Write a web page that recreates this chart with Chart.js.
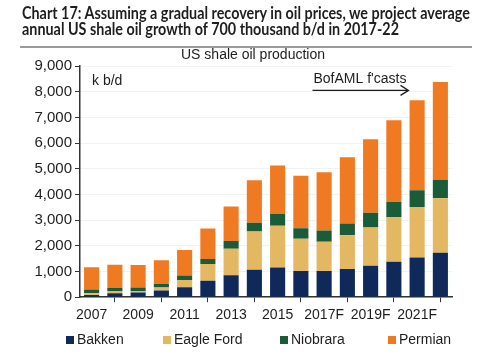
<!DOCTYPE html>
<html>
<head>
<meta charset="utf-8">
<script src="https://cdn.jsdelivr.net/npm/chart.js@4/dist/chart.umd.min.js"></script>
<style>
  html, body { margin: 0; padding: 0; background: #fff; }
  #wrap { position: relative; width: 480px; height: 355px; overflow: hidden; }
  #heading { position: absolute; left: 22px; top: 5px; font-family: Lato, "Open Sans", sans-serif; font-weight: 700; font-size: 16.5px; line-height: 16px; color: #1e1e1e; white-space: nowrap; transform-origin: 0 0; }
  #rule { position: absolute; left: 20px; top: 46px; width: 452px; height: 2px; background: #9a9a9a; }
  canvas { position: absolute; left: 0; top: 0; }
</style>
</head>
<body>
<div id="wrap">
  <canvas id="c" width="480" height="355"></canvas>
  <div id="heading"><div id="h1">Chart 17: Assuming a gradual recovery in oil prices, we project average</div><div id="h2">annual US shale oil growth of 700 thousand b/d in 2017-22</div></div>
  <div id="rule"></div>
</div>
<script>
// ---- data (k b/d) ----
const years = ['2007','2008','2009','2010','2011','2012','2013','2014','2015','2016','2017F','2018F','2019F','2020F','2021F','2022F'];
const bakken    = [ 90, 150, 180, 260, 390, 640, 850, 1070, 1160, 1020, 1020, 1100, 1220, 1380, 1550, 1730];
const eagleFord = [ 60,  95,  65, 115, 280, 650, 1040, 1490, 1620, 1260, 1140, 1310, 1490, 1740, 1960, 2120];
const niobrara  = [150, 115, 130, 140, 170, 200, 300, 340, 470, 400, 440, 460, 580, 600, 650, 720];
const permian   = [870, 900, 875, 925, 1000, 1180, 1340, 1650, 1880, 2050, 2260, 2580, 2860, 3170, 3510, 3810];
const yTicks = [0,1000,2000,3000,4000,5000,6000,7000,8000,9000];
const seriesNames = ['Bakken','Eagle Ford','Niobrara','Permian'];
const chartTitle = 'US shale oil production';
const unitLabel = 'k b/d';
const forecastLabel = "BofAML f'casts";

// fit heading width
(function(){
  const h = document.getElementById('heading');
  const w = document.getElementById('h1').getBoundingClientRect().width;
  h.style.transform = 'scaleX(' + (448 / w) + ')';
})();

const colors = ['#0f2a5a', '#e4b862', '#1b5c38', '#f07a22'];
const FONT = '"Liberation Sans", Arial, sans-serif';
const legendX = [66, 163, 280, 388];

const annot = {
  id: 'annot',
  afterDraw(chart) {
    const ctx = chart.ctx, ca = chart.chartArea, xs = chart.scales.x, ys = chart.scales.y;
    ctx.save();
    ctx.fillStyle = '#1e1e1e';
    ctx.textBaseline = 'middle';
    // chart title
    ctx.font = '14px ' + FONT;
    ctx.textAlign = 'center';
    ctx.fillText(chartTitle, 253, 55);
    ctx.textAlign = 'left';
    ctx.fillText(unitLabel, ca.left + 12, ys.getPixelForValue(8400));
    const half = (xs.getPixelForValue(1) - xs.getPixelForValue(0)) / 2;
    const x0 = xs.getPixelForValue(10) - half;
    const x1 = xs.getPixelForValue(14) - half;
    ctx.fillText(forecastLabel, x0 + 1, ys.getPixelForValue(8500));
    const ya = ys.getPixelForValue(8050);
    ctx.strokeStyle = '#1e1e1e';
    ctx.lineWidth = 1.3;
    ctx.beginPath();
    ctx.moveTo(x0, ya); ctx.lineTo(x1 + 3, ya);
    ctx.moveTo(x1 - 5, ya - 5); ctx.lineTo(x1 + 3, ya); ctx.lineTo(x1 - 5, ya + 5);
    ctx.stroke();
    // legend
    const ly = 340;
    chart.data.datasets.forEach((ds, i) => {
      ctx.fillStyle = ds.backgroundColor;
      ctx.fillRect(legendX[i], ly - 4, 8, 8);
      ctx.fillStyle = '#1e1e1e';
      ctx.fillText(ds.label, legendX[i] + 11, ly);
    });
    ctx.restore();
  }
};

new Chart(document.getElementById('c'), {
  type: 'bar',
  data: {
    labels: years,
    datasets: [
      { label: seriesNames[0], data: bakken,    backgroundColor: colors[0] },
      { label: seriesNames[1], data: eagleFord, backgroundColor: colors[1] },
      { label: seriesNames[2], data: niobrara,  backgroundColor: colors[2] },
      { label: seriesNames[3], data: permian,   backgroundColor: colors[3] }
    ]
  },
  options: {
    responsive: false,
    animation: false,
    devicePixelRatio: 1,
    datasets: { bar: { categoryPercentage: 1, barPercentage: 0.65 } },
    layout: { padding: { top: 66, right: 28, left: 0, bottom: 26 } },
    plugins: {
      tooltip: { enabled: false },
      title: { display: false },
      legend: { display: false }
    },
    scales: {
      x: {
        stacked: true,
        offset: true,
        grid: { offset: true, drawOnChartArea: false, drawTicks: true, tickLength: 5, tickColor: '#333' },
        border: { color: '#333', width: 1.5 },
        ticks: {
          autoSkip: false, maxRotation: 0, color: '#1e1e1e', padding: 5,
          font: { family: FONT, size: 14 },
          callback: (v, i) => (i % 2 === 0 ? years[i] : null)
        }
      },
      y: {
        stacked: true,
        min: yTicks[0], max: yTicks[yTicks.length - 1],
        afterBuildTicks: (s) => { s.ticks = yTicks.map(v => ({ value: v })); },
        afterFit: (s) => { s.width = 80; },
        grid: { color: 'rgba(0,0,0,0.05)', tickColor: '#333', tickLength: 5, drawTicks: true },
        border: { color: '#333', width: 1.5 },
        ticks: {
          color: '#1e1e1e', padding: 3,
          font: { family: FONT, size: 15 },
          callback: (v) => v.toLocaleString('en-US')
        }
      }
    }
  },
  plugins: [annot]
});
</script>
</body>
</html>
